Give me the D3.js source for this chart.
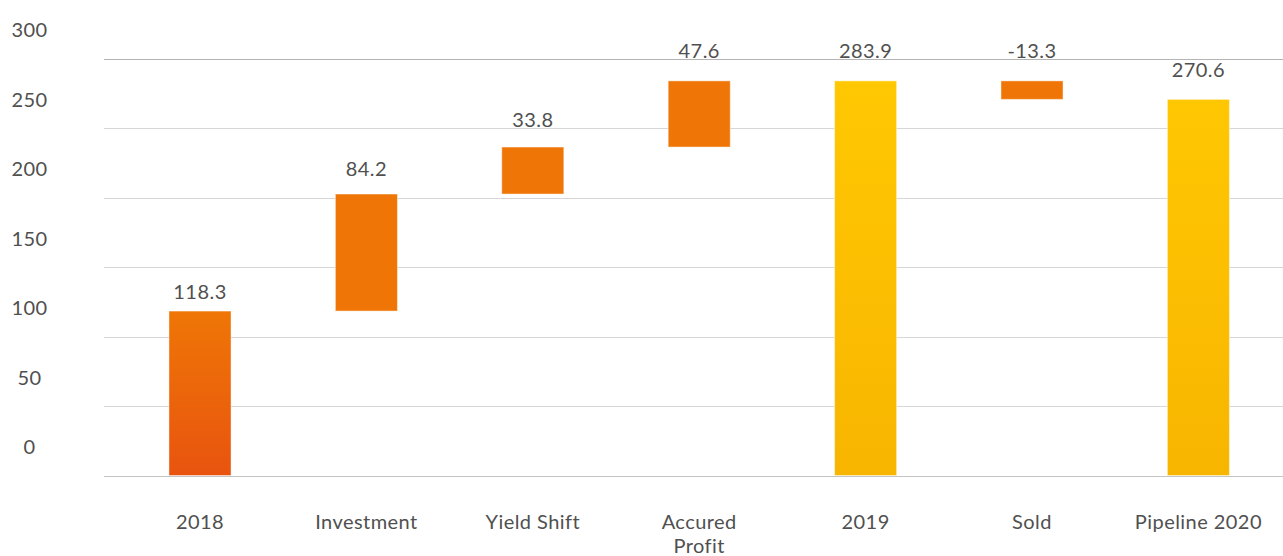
<!DOCTYPE html>
<html>
<head>
<meta charset="utf-8">
<script src="https://cdn.jsdelivr.net/npm/d3@7"></script>
<style>
  html, body { margin: 0; padding: 0; background: #fff; }
  svg { display: block; }
  text { font-family: Lato, "Open Sans", sans-serif; font-weight: 400; fill: #505050; letter-spacing: 0.45px; }
</style>
</head>
<body>
<svg id="chart" width="1283" height="556"></svg>
<script>
const categories = ["2018", "Investment", "Yield Shift", "Accured Profit", "2019", "Sold", "Pipeline 2020"];
const values = [118.3, 84.2, 33.8, 47.6, 283.9, -13.3, 270.6];
const kinds = ["total", "delta", "delta", "delta", "total", "delta", "total"];
const yTicks = [0, 50, 100, 150, 200, 250, 300];

// build waterfall segments
let running = 0;
const bars = categories.map((c, i) => {
  let start, end;
  if (kinds[i] === "total") { start = 0; end = values[i]; running = values[i]; }
  else { start = running; end = running + values[i]; running = end; }
  return { cat: c, value: values[i], kind: kinds[i], start, end };
});

const svg = d3.select("#chart");
const W = 1283, H = 556;
const FS = 20;

const x = d3.scaleBand().domain(categories).range([116.8, 1281.6]).paddingInner(0.627).paddingOuter(0.3135);
const y = d3.scaleLinear().domain([0, 300]).range([475.5, 58.5]);
const yLabel = d3.scaleLinear().domain([0, 300]).range([471, 34.6]);

const defs = svg.append("defs");
const gO = defs.append("linearGradient").attr("id", "gOrange")
  .attr("gradientUnits", "userSpaceOnUse").attr("x1", 0).attr("x2", 0)
  .attr("y1", y(0)).attr("y2", y(118.3));
gO.append("stop").attr("offset", "0%").attr("stop-color", "#e8540f");
gO.append("stop").attr("offset", "100%").attr("stop-color", "#ef7606");
const gY = defs.append("linearGradient").attr("id", "gYellow")
  .attr("gradientUnits", "userSpaceOnUse").attr("x1", 0).attr("x2", 0)
  .attr("y1", y(0)).attr("y2", y(283.9));
gY.append("stop").attr("offset", "0%").attr("stop-color", "#f8b500");
gY.append("stop").attr("offset", "100%").attr("stop-color", "#ffc802");

// gridlines
svg.append("g").selectAll("line").data(yTicks).join("line")
  .attr("x1", 104).attr("x2", W)
  .attr("y1", d => Math.round(y(d)) + 0.5).attr("y2", d => Math.round(y(d)) + 0.5)
  .attr("stroke", d => d === 300 ? "#b4b4b4" : (d === 0 ? "#c4c4c4" : "#d6d6d6"))
  .attr("stroke-width", 1);

// y tick labels
svg.append("g").selectAll("text").data(yTicks).join("text")
  .attr("x", 29.5).attr("y", d => y(d) - 21.5)
  .attr("text-anchor", "middle").attr("font-size", FS)
  .text(d => d);

// bars
svg.append("g").selectAll("rect").data(bars).join("rect")
  .attr("x", d => x(d.cat))
  .attr("width", x.bandwidth())
  .attr("y", d => y(Math.max(d.start, d.end)))
  .attr("height", d => Math.abs(y(d.start) - y(d.end)))
  .attr("fill", d => d.kind === "total" && d.cat !== "2018" ? "url(#gYellow)" : "url(#gOrange)")
  .attr("stroke", "rgba(255,255,255,0.45)").attr("stroke-width", 1);

// value labels
svg.append("g").selectAll("text").data(bars).join("text")
  .attr("x", d => x(d.cat) + x.bandwidth() / 2)
  .attr("y", d => yLabel(Math.max(d.start, d.end)))
  .attr("text-anchor", "middle").attr("font-size", FS)
  .text(d => d.value.toFixed(1));

// category labels (wrap)
const catG = svg.append("g").selectAll("text").data(categories).join("text")
  .attr("x", d => x(d) + x.bandwidth() / 2)
  .attr("y", 529)
  .attr("text-anchor", "middle").attr("font-size", FS);
catG.each(function(d) {
  const t = d3.select(this);
  const words = d === "Accured Profit" ? ["Accured", "Profit"] : [d];
  words.forEach((w, i) => {
    t.append("tspan").attr("x", x(d) + x.bandwidth() / 2).attr("dy", i === 0 ? 0 : 24).text(w);
  });
});
</script>
</body>
</html>
